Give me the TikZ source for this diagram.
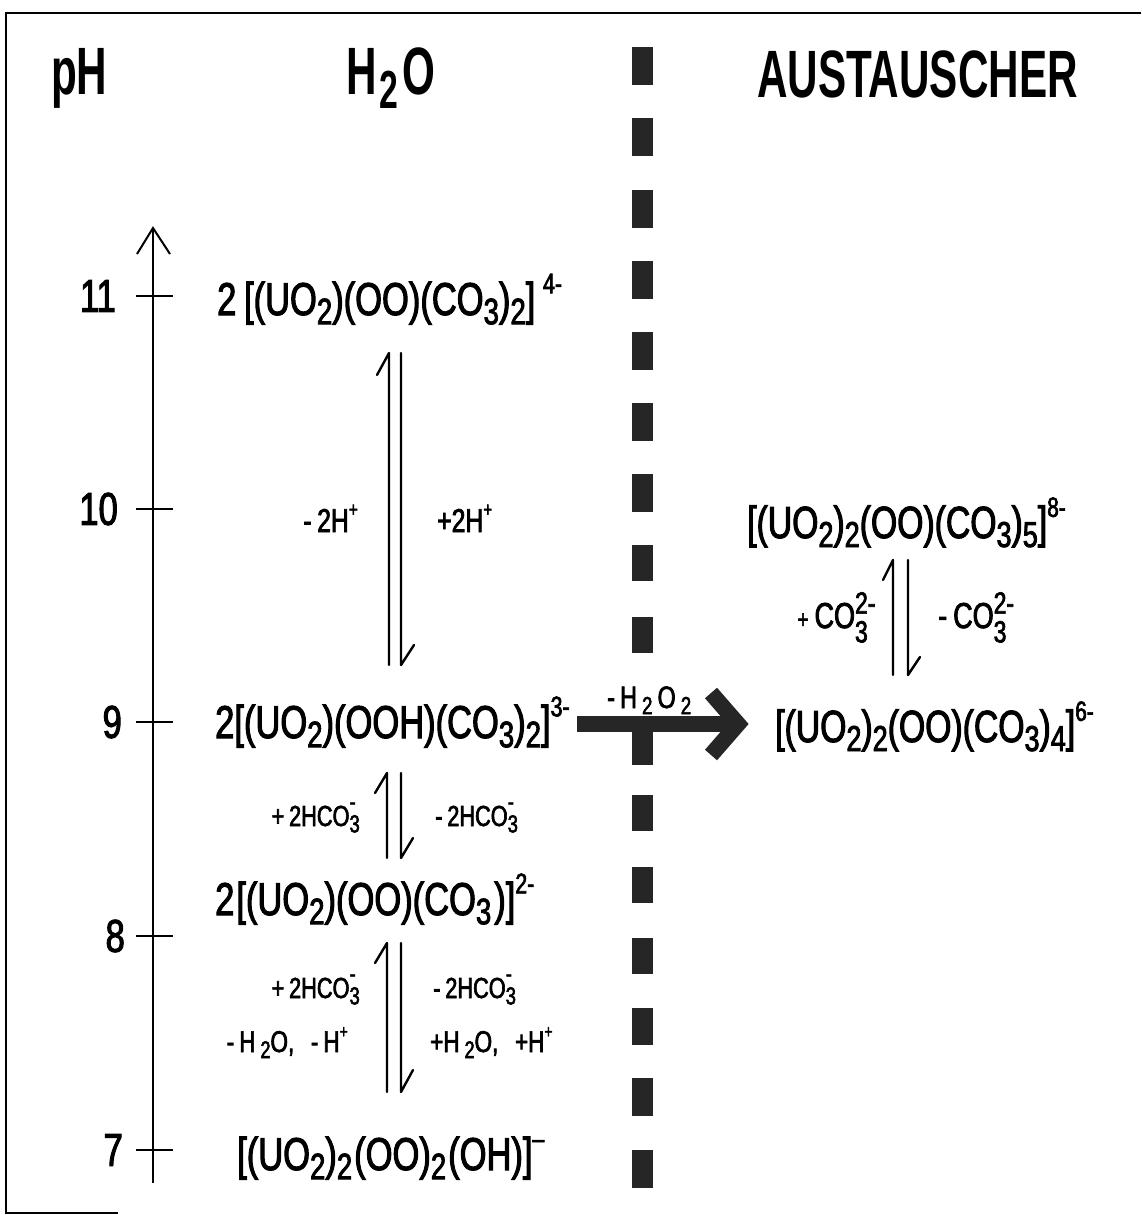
\documentclass[tikz,border=0pt]{standalone}
\usepackage{graphicx}
\usepackage{fontspec}
\setmainfont{Liberation Sans}[FakeStretch=0.75,FakeBold=2.2]
\newfontfamily\ttlfont{Liberation Sans}[FakeStretch=0.63]
\newcommand\lo[1]{\raisebox{-0.2em}{\scalebox{0.8}{#1}}}
\newcommand\hi[1]{\raisebox{0.47em}{\scalebox{0.62}{#1}}}
\newcommand\stk[2]{\rlap{\raisebox{0.40em}{\scalebox{0.85}{#2}}}\raisebox{-0.40em}{\scalebox{0.85}{#1}}}
\newcommand\stkm[2]{\rlap{\raisebox{0.55em}{\scalebox{0.85}{#2}}}\raisebox{-0.22em}{\scalebox{0.85}{#1}}}
\begin{document}
\begin{tikzpicture}[x=1pt,y=-1pt,
  ttl/.style={font=\ttlfont\bfseries\fontsize{67}{70}\selectfont, inner sep=0pt, anchor=base west},
  num/.style={font=\fontsize{46}{50}\selectfont, inner sep=0pt, anchor=east},
  frm/.style={font=\fontsize{46}{50}\selectfont, inner sep=0pt, anchor=base west},
  frmr/.style={font=\fontsize{45}{48}\selectfont, inner sep=0pt, anchor=base west},
  labH/.style={font=\fontsize{33}{36}\selectfont, inner sep=0pt},
  labC/.style={font=\fontsize{29}{32}\selectfont, inner sep=0pt},
  labW/.style={font=\fontsize{30}{33}\selectfont, inner sep=0pt},
  labK/.style={font=\fontsize{36}{40}\selectfont, inner sep=0pt},
  labA/.style={font=\fontsize{31}{34}\selectfont, inner sep=0pt},
  harp/.style={line width=2.4pt, line cap=round, line join=round},
  axis/.style={line width=2pt},
  tick/.style={line width=2pt},
  dashbox/.style={fill=black!85, draw=none},
  bigarrow/.style={line width=16pt, draw=black!85, line join=miter}
]
\useasboundingbox (0,0) rectangle (1141,1215);
\fill[white] (0,0) rectangle (1141,1215);
% frame
\draw[line width=2.5pt] (1141,13) -- (6,13) -- (6,1213) -- (118,1213);

% titles
\node[ttl] (tph) at (51,95) {pH};
\node[ttl] (th2o) at (346,95) {H\kern3pt\lo{2}\kern4pt O};
\node[ttl] (taus) at (757,97) {AUSTAUSCHER};

% separator dashes
\foreach \t/\h in {47/38,118/38,190/38,261/38,332/38,403/38,474/38,545/36,617/36,730/35,795/36,867/36,938/36,1008/37,1078/38,1150/38}
  \fill[dashbox] (632,\t) rectangle (653,\t+\h);

% pH axis
\coordinate (axbot) at (153,1183);
\coordinate (axtop) at (153,228);
\draw[axis] (axbot) -- (axtop);
\draw[axis, line join=miter] (137,254) -- (axtop) -- (170,254);
\foreach \v/\y/\xr in {11/296/116,10/509/118,9/722/122,8/936/125,7/1150/123}{
  \draw[tick] (136,\y) -- (173,\y);
  \node[num] (n\v) at (\xr,\y) {\v};
}

% formulas (water side)
\node[frm] (f11) at (217,315) {2\,[(UO\lo{2})(OO)(CO\lo{3})\lo{2}]\,\hi{4-}};
\node[frm] (f9) at (215,738) {2[(UO\lo{2})(OOH)(CO\lo{3})\lo{2}]\hi{3-}};
\node[frm] (f8) at (215,915) {2\kern2pt[(UO\lo{2})(OO)(CO\lo{3}\kern3pt)]\hi{2-}};
\node[frm] (f7) at (237,1170) {[(UO\lo{2})\lo{2}\kern2pt(OO)\lo{2}\kern2pt(OH)]\hi{--}};

% formulas (exchanger side)
\node[frmr] (r10) at (747,538) {[(UO\lo{2})\lo{2}(OO)(CO\lo{3})\lo{5}]\hi{8-}};
\node[frmr] (r9) at (775,742) {[(UO\lo{2})\lo{2}(OO)(CO\lo{3})\lo{4}]\hi{6-}};

% equilibrium 11 <-> 9
\coordinate (e1lb) at (389,665); \coordinate (e1lt) at (389,353);
\coordinate (e1rt) at (401,353); \coordinate (e1rb) at (401,665);
\draw[harp] (e1lb) -- (e1lt) -- ++(-12,22);
\draw[harp] (e1rt) -- (e1rb) -- ++(13,-20);
\node[labH, anchor=base east] (l1a) at (358,532) {-\,2H\hi{+}};
\node[labH, anchor=base west] (l1b) at (437,532) {+2H\hi{+}};

% equilibrium 9 <-> 8
\coordinate (e2lb) at (387,858); \coordinate (e2lt) at (387,773);
\coordinate (e2rt) at (401,773); \coordinate (e2rb) at (401,858);
\draw[harp] (e2lb) -- (e2lt) -- ++(-12,20);
\draw[harp] (e2rt) -- (e2rb) -- ++(12,-20);
\node[labC, anchor=base east] (l2a) at (360,826) {+\,2HCO\stkm{3}{-}};
\node[labC, anchor=base west] (l2b) at (435,826) {-\,2HCO\stkm{3}{-}};

% equilibrium 8 <-> 7
\coordinate (e3lb) at (387,1092); \coordinate (e3lt) at (387,943);
\coordinate (e3rt) at (401,943); \coordinate (e3rb) at (401,1092);
\draw[harp] (e3lb) -- (e3lt) -- ++(-12,20);
\draw[harp] (e3rt) -- (e3rb) -- ++(12,-22);
\node[labC, anchor=base east] (l3a) at (360,998) {+\,2HCO\stkm{3}{-}};
\node[labC, anchor=base west] (l3b) at (433,998) {-\,2HCO\stkm{3}{-}};
\node[labW, anchor=base east] (l3c) at (348,1052) {-\,H\,\lo{2}O,\;\;-\,H\hi{+}};
\node[labW, anchor=base west] (l3d) at (430,1052) {+H\,\lo{2}O,\;\;+H\hi{+}};

% equilibrium right 10 <-> 9
\coordinate (e4lb) at (893,675); \coordinate (e4lt) at (893,560);
\coordinate (e4rt) at (908,560); \coordinate (e4rb) at (908,675);
\draw[harp] (e4lb) -- (e4lt) -- ++(-10,20);
\draw[harp] (e4rt) -- (e4rb) -- ++(12,-18);
\node[labK, anchor=base east] (l4a) at (868,628) {\scalebox{0.7}{+}\,CO\stk{3}{2-}};
\node[labK, anchor=base west] (l4b) at (938,628) {-\,CO\stk{3}{2-}};

% main transfer arrow
\coordinate (ba) at (577,724);
\coordinate (bb) at (738,724);
\draw[bigarrow] (ba) -- (bb);
\draw[bigarrow] (711,693) -- (bb) -- (711,755);
\node[labA, anchor=base west] (lh2o2) at (607,708) {-\,H\,\lo{2}\,O\,\lo{2}};
\end{tikzpicture}
\end{document}
